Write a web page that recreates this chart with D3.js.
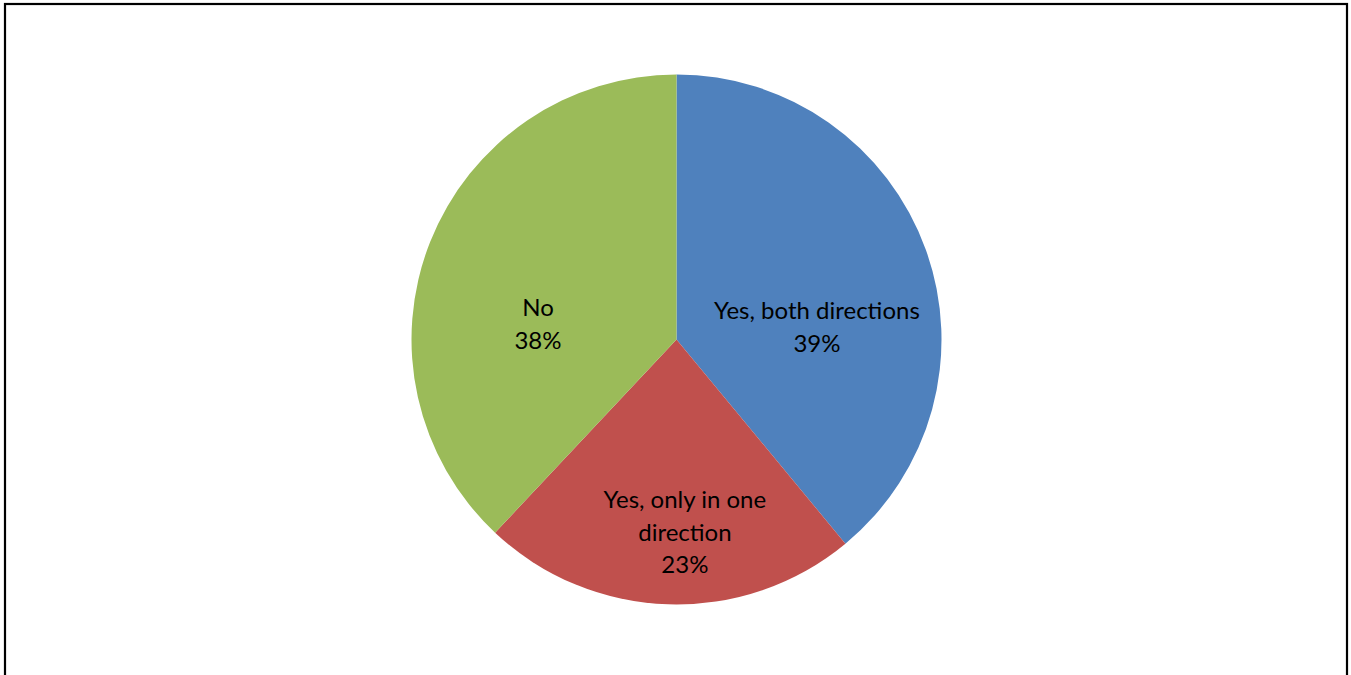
<!DOCTYPE html>
<html>
<head>
<meta charset="utf-8">
<script src="https://cdn.jsdelivr.net/npm/d3@7"></script>
<style>
  html, body { margin: 0; padding: 0; background: #fff; }
  svg { display: block; }
</style>
</head>
<body>
<svg id="chart" width="1351" height="675"></svg>
<script>
// Survey answer shares (percent)
const categories = ["Yes, both directions", "Yes, only in one direction", "No"];
const values = [39, 23, 38];
// Wrapped label lines for each slice
const labelLines = [["Yes, both directions"], ["Yes, only in one", "direction"], ["No"]];
const colors = ["#4F81BD", "#C0504D", "#9BBB59"];

const W = 1351, H = 675;
const svg = d3.select("#chart");

// Outer chart frame (runs off the bottom edge)
svg.append("rect")
  .attr("x", 5).attr("y", 4)
  .attr("width", 1342).attr("height", 700)
  .attr("fill", "none").attr("stroke", "#000").attr("stroke-width", 2.2);

const cx = 676.5, cy = 339.5, R = 265;
const g = svg.append("g").attr("transform", `translate(${cx},${cy})`);

const pie = d3.pie().sort(null).value(d => d.v);
const data = categories.map((c, i) => ({ c, v: values[i], i }));
const arcs = pie(data);
const arc = d3.arc().innerRadius(0).outerRadius(R);

g.selectAll("path.slice")
  .data(arcs)
  .join("path")
  .attr("class", "slice")
  .attr("d", arc)
  .attr("fill", d => colors[d.data.i]);

// Label placement: polar position (angle shift in radians, radius fraction) per slice
const labelLayout = [
  { dAngle: 0.257, r: 0.532 },
  { dAngle: -0.075, r: 0.727 },
  { dAngle: -0.265, r: 0.526 }
];
const fmt = d => Math.round(d) + "%";
const lineH = 32.5;

arcs.forEach(a => {
  const i = a.data.i;
  const mid = (a.startAngle + a.endAngle) / 2 + labelLayout[i].dAngle;
  const rr = R * labelLayout[i].r;
  const x = rr * Math.sin(mid), y = -rr * Math.cos(mid);
  const lines = labelLines[i].concat([fmt(a.data.v)]);
  const t = g.append("text")
    .attr("text-anchor", "middle")
    .attr("font-family", "Lato, 'Open Sans', sans-serif")
    .attr("font-size", 24)
    .attr("fill", "#000");
  const y0 = y - (lines.length - 1) * lineH / 2;
  lines.forEach((ln, k) => {
    t.append("tspan")
      .attr("x", x)
      .attr("y", y0 + k * lineH)
      .attr("dy", "0.36em")
      .text(ln);
  });
});
</script>
</body>
</html>
